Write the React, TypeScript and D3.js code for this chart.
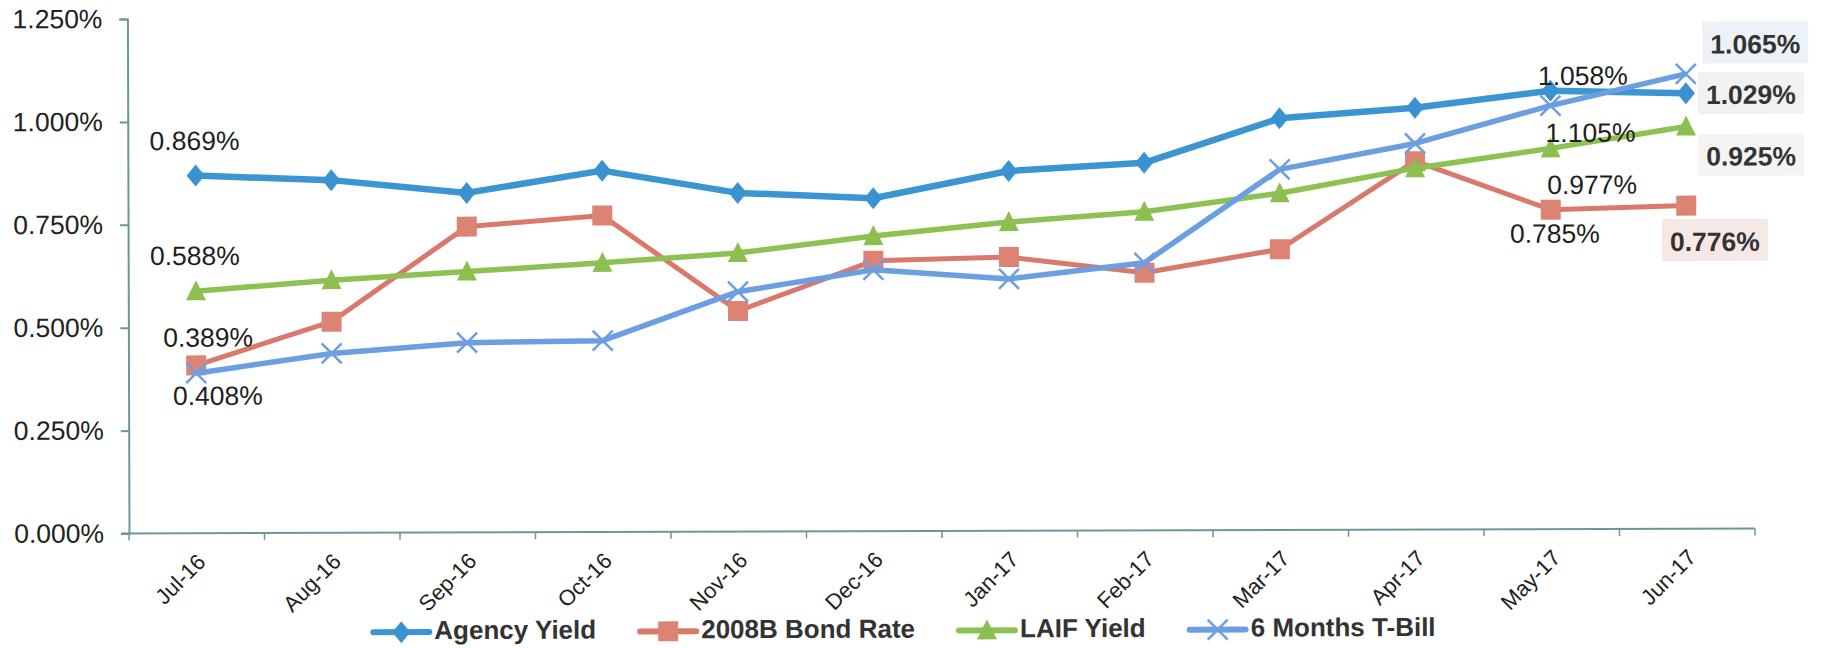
import React, { useEffect, useRef } from 'react';
import * as d3 from 'd3';

const categories = ['Jul-16', 'Aug-16', 'Sep-16', 'Oct-16', 'Nov-16', 'Dec-16', 'Jan-17', 'Feb-17', 'Mar-17', 'Apr-17', 'May-17', 'Jun-17'];
const agencyYield = [0.869, 0.857, 0.825, 0.878, 0.823, 0.809, 0.874, 0.893, 1.0, 1.025, 1.065, 1.058];
const bondRate = [0.408, 0.513, 0.743, 0.769, 0.536, 0.657, 0.665, 0.626, 0.682, 0.895, 0.776, 0.785];
const laifYield = [0.588, 0.614, 0.634, 0.654, 0.677, 0.717, 0.75, 0.774, 0.818, 0.878, 0.925, 0.977];
const tBill = [0.389, 0.436, 0.461, 0.465, 0.583, 0.635, 0.612, 0.65, 0.876, 0.938, 1.029, 1.105];
const yTicks = [0, 0.25, 0.5, 0.75, 1.0, 1.25];
const seriesNames = ['Agency Yield', '2008B Bond Rate', 'LAIF Yield', '6 Months T-Bill'];

// data labels as printed on the chart (text, attached series / category)
const labelTexts = ['0.869%', '0.588%', '0.389%', '0.408%', '1.058%', '1.105%', '0.977%', '0.785%', '1.065%', '1.029%', '0.925%', '0.776%'];
const labelSeries = [0, 2, 1, 3, 0, 2, 2, 1, 3, 0, 2, 1];
const labelCats = [0, 0, 0, 0, 10, 10, 10, 10, 11, 11, 11, 11];

// layout (offsets in px from the attached point)
const labelLayout = [
  { dx: -1, dy: -25.6 },
  { dx: -1, dy: -26.3 },
  { dx: 12, dy: -18.7 },
  { dx: 21.5, dy: 31.8 },
  { dx: 32.5, dy: -5.8 },
  { dx: 40, dy: -6.4 },
  { dx: 41.5, dy: 45.6 },
  { dx: 4, dy: 33 },
  { dx: 69.5, dy: -20.3, bold: true, box: '#edf2f6' },
  { dx: 65, dy: 10.8, bold: true, box: '#f1f1f1' },
  { dx: 65, dy: 39.1, bold: true, box: '#f4f4f4' },
  { dx: 28.5, dy: 45.4, bold: true, box: '#f6e8e4' },
];

const styles = [
  { line: '#3a95d1', marker: '#3a93d0', width: 6.5, shape: 'diamond' },
  { line: '#d8796b', marker: '#dc8373', width: 5, shape: 'square' },
  { line: '#8dc151', marker: '#8dbf50', width: 5.5, shape: 'triangle' },
  { line: '#6b9fe2', marker: '#6b9fe2', width: 5.5, shape: 'x' },
];

const FONT = '"Liberation Sans", Arial, sans-serif';

function drawMarker(g: any, shape: string, cx: number, cy: number, color: string) {
  if (shape === 'diamond') {
    g.append('path').attr('d', `M${cx},${cy - 11}L${cx + 9},${cy}L${cx},${cy + 11}L${cx - 9},${cy}Z`).attr('fill', color);
  } else if (shape === 'square') {
    g.append('rect').attr('x', cx - 10).attr('y', cy - 10).attr('width', 20).attr('height', 20).attr('fill', color);
  } else if (shape === 'triangle') {
    g.append('path').attr('d', `M${cx},${cy - 11}L${cx + 10},${cy + 9}L${cx - 10},${cy + 9}Z`).attr('fill', color);
  } else {
    g.append('path')
      .attr('d', `M${cx - 10},${cy - 10}L${cx + 10},${cy + 10}M${cx + 10},${cy - 10}L${cx - 10},${cy + 10}`)
      .attr('stroke', color).attr('stroke-width', 2.5).attr('fill', 'none');
  }
}

export default function App() {
  const ref = useRef<SVGSVGElement>(null);
  useEffect(() => {
    const svg = d3.select(ref.current);
    svg.selectAll('*').remove();
    const left = 129, right = 1755, bottom = 533.5, top = 19;
    const x = d3.scaleBand<string>().domain(categories).range([left, right]).padding(0);
    const y = d3.scaleLinear().domain([0, 1.25]).range([bottom, top]);
    const cx = (i: number) => (x(categories[i]) as number) + x.bandwidth() / 2;
    const axisColor = '#6a979c';

    const g = svg.append('g').attr('transform', `rotate(-0.176 ${left} ${bottom})`);

    // Y axis
    const ya = g.append('g').attr('transform', `translate(${left},0)`)
      .call(d3.axisLeft(y).tickValues(yTicks).tickSize(8).tickPadding(17).tickFormat((d: any) => (+d).toFixed(3) + '%'));
    ya.select('.domain').attr('stroke', axisColor).attr('stroke-width', 2);
    ya.selectAll('.tick line').attr('stroke', axisColor).attr('stroke-width', 2);
    ya.selectAll('.tick text').attr('font-family', FONT).attr('font-size', 26.5).attr('fill', '#222');

    // X axis
    const xa = g.append('g');
    xa.append('line').attr('x1', left - 8).attr('x2', right).attr('y1', bottom).attr('y2', bottom)
      .attr('stroke', axisColor).attr('stroke-width', 2);
    const bounds = categories.map((c) => x(c) as number).concat([right]);
    xa.selectAll('line.tk').data(bounds).enter().append('line').attr('class', 'tk')
      .attr('x1', (d) => d).attr('x2', (d) => d).attr('y1', bottom).attr('y2', bottom + 7)
      .attr('stroke', axisColor).attr('stroke-width', 1.5);
    xa.selectAll('text').data(categories).enter().append('text')
      .attr('transform', (_d, i) => `translate(${cx(i) + 10},${bottom + 30}) rotate(-45)`)
      .attr('text-anchor', 'end').attr('font-family', FONT).attr('font-size', 22).attr('fill', '#222')
      .text((d) => d);

    // Series
    const allSeries = [agencyYield, bondRate, laifYield, tBill];
    const line = d3.line<number>().x((_d, i) => cx(i)).y((d) => y(d));
    allSeries.forEach((vals, si) => {
      const st = styles[si];
      const sg = g.append('g');
      sg.append('path').attr('d', line(vals) as string).attr('fill', 'none')
        .attr('stroke', st.line).attr('stroke-width', st.width).attr('stroke-linejoin', 'round');
      vals.forEach((v, i) => drawMarker(sg, st.shape, cx(i), y(v), st.marker));
    });

    // Data labels
    labelTexts.forEach((t, k) => {
      const lay = labelLayout[k];
      const px = cx(labelCats[k]) + lay.dx;
      const py = y(allSeries[labelSeries[k]][labelCats[k]]) + lay.dy;
      if (lay.box) {
        g.append('rect').attr('x', px - 53).attr('y', py - 32).attr('width', 106).attr('height', 42).attr('fill', lay.box);
      }
      g.append('text').attr('x', px).attr('y', py).attr('text-anchor', 'middle')
        .attr('font-family', FONT).attr('font-size', 26.5).attr('font-weight', lay.bold ? 'bold' : 'normal')
        .attr('fill', lay.bold ? '#333' : '#1e1e1e').text(t);
    });

    // Legend
    const lg = g.append('g');
    let lx = 373;
    const base = 640;
    seriesNames.forEach((name, si) => {
      const st = styles[si];
      lg.append('line').attr('x1', lx).attr('x2', lx + 56).attr('y1', base - 7).attr('y2', base - 7)
        .attr('stroke', st.line).attr('stroke-width', 6).attr('stroke-linecap', 'round');
      drawMarker(lg, st.shape, lx + 28, base - 7, st.marker);
      const tx = lg.append('text').attr('x', lx + 61).attr('y', base)
        .attr('font-family', FONT).attr('font-size', 26).attr('font-weight', 'bold').attr('fill', '#333').text(name);
      const w = (tx.node() as SVGTextElement).getComputedTextLength();
      lx = lx + 61 + w + 44;
    });
  }, []);
  return (
    <svg ref={ref} width={1825} height={648} style={{ position: 'absolute', left: 0, top: 0, background: '#fff' }} />
  );
}
